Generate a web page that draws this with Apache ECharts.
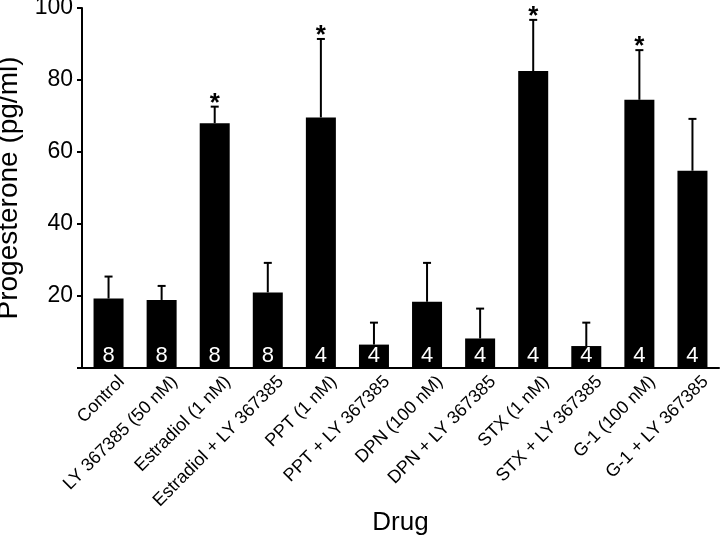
<!DOCTYPE html>
<html>
<head>
<meta charset="utf-8">
<script src="https://cdn.jsdelivr.net/npm/echarts@6/dist/echarts.min.js"></script>
<style>html,body{margin:0;padding:0;background:#fff}#c{width:720px;height:540px}</style>
</head>
<body>
<div id="c"></div>
<script>
var categories = ['Control','LY 367385 (50 nM)','Estradiol (1 nM)','Estradiol + LY 367385','PPT (1 nM)','PPT + LY 367385','DPN (100 nM)','DPN + LY 367385','STX (1 nM)','STX + LY 367385','G-1 (100 nM)','G-1 + LY 367385'];
var means = [19.3, 18.9, 68.0, 21.0, 69.6, 6.5, 18.4, 8.2, 82.5, 6.1, 74.5, 54.8];
var errTops = [25.4, 22.8, 72.6, 29.2, 91.4, 12.6, 29.2, 16.5, 96.7, 12.6, 88.3, 69.2];
var counts = [8, 8, 8, 8, 4, 4, 4, 4, 4, 4, 4, 4];
var significant = [false, false, true, false, true, false, false, false, true, false, true, false];
var yTicks = [0, 20, 40, 60, 80, 100];

var font = 'Liberation Sans, Arial, Helvetica, sans-serif';
var chart = echarts.init(document.getElementById('c'), null, {renderer: 'canvas'});

var errData = categories.map(function (c, i) { return [i, means[i], errTops[i]]; });
var labelData = categories.map(function (c, i) { return [i, 0, c]; });
var starData = [];
categories.forEach(function (c, i) { if (significant[i]) starData.push([i, errTops[i]]); });

chart.setOption({
  animation: false,
  backgroundColor: '#fff',
  grid: {left: 82, right: 1, top: 8, bottom: 172, containLabel: false, outerBoundsMode: 'none'},
  xAxis: {
    type: 'category',
    data: categories,
    name: 'Drug',
    nameLocation: 'middle',
    nameGap: 142,
    nameTextStyle: {color: '#000', fontFamily: font, fontSize: 26},
    axisLine: {lineStyle: {color: '#000', width: 2}},
    axisTick: {show: false},
    axisLabel: {show: false}
  },
  yAxis: {
    type: 'value',
    min: yTicks[0], max: yTicks[yTicks.length - 1], interval: 20,
    name: 'Progesterone (pg/ml)',
    nameLocation: 'middle',
    nameGap: 53,
    nameTextStyle: {color: '#000', fontFamily: font, fontSize: 28},
    splitLine: {show: false},
    axisLine: {show: true, lineStyle: {color: '#000', width: 2}},
    axisTick: {show: true, length: 5, lineStyle: {color: '#000', width: 2}},
    axisLabel: {color: '#000', fontFamily: font, fontSize: 23, margin: 9,
      formatter: function (v) { return v === 0 ? '' : String(v); }}
  },
  series: [
    {
      type: 'bar',
      data: means,
      barWidth: 30,
      itemStyle: {color: '#000'},
      label: {
        show: true, position: 'insideBottom', distance: 1,
        color: '#fff', fontFamily: font, fontSize: 22,
        formatter: function (p) { return String(counts[p.dataIndex]); }
      },
      z: 2
    },
    {
      type: 'custom',
      data: errData,
      z: 1,
      renderItem: function (params, api) {
        var x = api.value(0);
        var base = api.coord([x, api.value(1)]);
        var top = api.coord([x, api.value(2)]);
        return {
          type: 'group',
          children: [
            {type: 'line', shape: {x1: base[0], y1: base[1], x2: top[0], y2: top[1]}, style: {stroke: '#000', lineWidth: 2}},
            {type: 'line', shape: {x1: top[0] - 4, y1: top[1], x2: top[0] + 4, y2: top[1]}, style: {stroke: '#000', lineWidth: 2}}
          ]
        };
      }
    },
    {
      type: 'custom',
      data: starData,
      z: 3,
      renderItem: function (params, api) {
        var p = api.coord([api.value(0), api.value(1)]);
        return {
          type: 'text',
          x: p[0], y: p[1] - 3,
          style: {text: '*', font: 'bold 26px ' + font, fill: '#000', align: 'center', verticalAlign: 'middle'}
        };
      }
    },
    {
      type: 'custom',
      data: labelData,
      clip: false,
      z: 3,
      renderItem: function (params, api) {
        var p = api.coord([api.value(0), 0]);
        return {
          type: 'text',
          x: p[0] + 13, y: p[1] + 11,
          rotation: Math.PI / 4,
          style: {text: categories[params.dataIndex], font: '18px ' + font, fill: '#000', align: 'right', verticalAlign: 'middle'}
        };
      }
    }
  ]
});
</script>
</body>
</html>
